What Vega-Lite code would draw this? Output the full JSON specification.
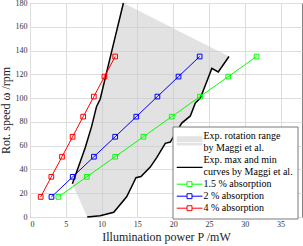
{
  "$schema": "https://vega.github.io/schema/vega-lite/v6.json",
  "width": 272,
  "height": 214,
  "autosize": {"type": "none"},
  "padding": {"left": 30, "top": 3, "right": 1, "bottom": 29},
  "config": {
    "font": "Liberation Serif",
    "view": {"stroke": "#808080", "strokeWidth": 1},
    "axis": {
      "gridColor": "#dedede",
      "gridOpacity": 1,
      "domain": false,
      "ticks": false,
      "labelFont": "Liberation Serif",
      "labelFontSize": 8,
      "labelColor": "#333333",
      "titleFont": "Liberation Serif",
      "titleFontSize": 12,
      "titleFontWeight": "normal",
      "titleColor": "#222222"
    }
  },
  "datasets": {
    "poly": [
      {"ord": 0, "P": 5.92, "w": 28},
      {"ord": 1, "P": 6.76, "w": 42},
      {"ord": 2, "P": 7.7, "w": 58},
      {"ord": 3, "P": 8.6, "w": 76},
      {"ord": 4, "P": 9.3, "w": 93},
      {"ord": 5, "P": 9.8, "w": 99},
      {"ord": 6, "P": 11.8, "w": 149},
      {"ord": 7, "P": 13.05, "w": 180},
      {"ord": 8, "P": 27.8, "w": 135},
      {"ord": 9, "P": 26.3, "w": 122},
      {"ord": 10, "P": 25.4, "w": 125},
      {"ord": 11, "P": 24.7, "w": 114},
      {"ord": 12, "P": 23.8, "w": 100},
      {"ord": 13, "P": 23.1, "w": 96},
      {"ord": 14, "P": 22.4, "w": 85},
      {"ord": 15, "P": 21.2, "w": 79},
      {"ord": 16, "P": 20.1, "w": 68},
      {"ord": 17, "P": 19.6, "w": 63},
      {"ord": 18, "P": 18.9, "w": 62},
      {"ord": 19, "P": 17.7, "w": 50},
      {"ord": 20, "P": 16.8, "w": 42},
      {"ord": 21, "P": 15.5, "w": 34},
      {"ord": 22, "P": 14.8, "w": 33},
      {"ord": 23, "P": 14.4, "w": 28},
      {"ord": 24, "P": 13.5, "w": 17},
      {"ord": 25, "P": 11.7, "w": 4},
      {"ord": 26, "P": 9.8, "w": 1},
      {"ord": 27, "P": 8.0, "w": 0}
    ],
    "curves": [
      {"curve": "max", "ord": 0, "P": 5.92, "w": 28},
      {"curve": "max", "ord": 1, "P": 6.76, "w": 42},
      {"curve": "max", "ord": 2, "P": 7.7, "w": 58},
      {"curve": "max", "ord": 3, "P": 8.6, "w": 76},
      {"curve": "max", "ord": 4, "P": 9.3, "w": 93},
      {"curve": "max", "ord": 5, "P": 9.8, "w": 99},
      {"curve": "max", "ord": 6, "P": 11.8, "w": 149},
      {"curve": "max", "ord": 7, "P": 13.05, "w": 180},
      {"curve": "min", "ord": 0, "P": 8.0, "w": 0},
      {"curve": "min", "ord": 1, "P": 9.8, "w": 1},
      {"curve": "min", "ord": 2, "P": 11.7, "w": 4},
      {"curve": "min", "ord": 3, "P": 13.5, "w": 17},
      {"curve": "min", "ord": 4, "P": 14.4, "w": 28},
      {"curve": "min", "ord": 5, "P": 14.8, "w": 33},
      {"curve": "min", "ord": 6, "P": 15.5, "w": 34},
      {"curve": "min", "ord": 7, "P": 16.8, "w": 42},
      {"curve": "min", "ord": 8, "P": 17.7, "w": 50},
      {"curve": "min", "ord": 9, "P": 18.9, "w": 62},
      {"curve": "min", "ord": 10, "P": 19.6, "w": 63},
      {"curve": "min", "ord": 11, "P": 20.1, "w": 68},
      {"curve": "min", "ord": 12, "P": 21.2, "w": 79},
      {"curve": "min", "ord": 13, "P": 22.4, "w": 85},
      {"curve": "min", "ord": 14, "P": 23.1, "w": 96},
      {"curve": "min", "ord": 15, "P": 23.8, "w": 100},
      {"curve": "min", "ord": 16, "P": 24.7, "w": 114},
      {"curve": "min", "ord": 17, "P": 25.4, "w": 125},
      {"curve": "min", "ord": 18, "P": 26.3, "w": 122},
      {"curve": "min", "ord": 19, "P": 27.8, "w": 135}
    ],
    "abs": [
      {"series": "1.5 % absorption", "P": 3.96, "w": 16.9},
      {"series": "1.5 % absorption", "P": 7.93, "w": 33.8},
      {"series": "1.5 % absorption", "P": 11.9, "w": 50.7},
      {"series": "1.5 % absorption", "P": 15.85, "w": 67.5},
      {"series": "1.5 % absorption", "P": 19.8, "w": 84.4},
      {"series": "1.5 % absorption", "P": 23.75, "w": 101.3},
      {"series": "1.5 % absorption", "P": 27.7, "w": 118.1},
      {"series": "1.5 % absorption", "P": 31.65, "w": 135},
      {"series": "2 % absorption", "P": 3.0, "w": 16.9},
      {"series": "2 % absorption", "P": 5.97, "w": 33.8},
      {"series": "2 % absorption", "P": 8.93, "w": 50.7},
      {"series": "2 % absorption", "P": 11.9, "w": 67.5},
      {"series": "2 % absorption", "P": 14.85, "w": 84.4},
      {"series": "2 % absorption", "P": 17.8, "w": 101.3},
      {"series": "2 % absorption", "P": 20.75, "w": 118.1},
      {"series": "2 % absorption", "P": 23.7, "w": 135},
      {"series": "4 % absorption", "P": 1.49, "w": 16.9},
      {"series": "4 % absorption", "P": 2.98, "w": 33.8},
      {"series": "4 % absorption", "P": 4.47, "w": 50.7},
      {"series": "4 % absorption", "P": 5.95, "w": 67.5},
      {"series": "4 % absorption", "P": 7.43, "w": 84.4},
      {"series": "4 % absorption", "P": 8.92, "w": 101.3},
      {"series": "4 % absorption", "P": 10.4, "w": 118.1},
      {"series": "4 % absorption", "P": 11.9, "w": 135}
    ]
  },
  "encoding": {
    "x": {
      "field": "P",
      "type": "quantitative",
      "scale": {"domain": [0, 38], "nice": false, "zero": false},
      "axis": {"values": [0, 5, 10, 15, 20, 25, 30, 35], "labelPadding": 3, "titlePadding": 3, "title": "Illumination power P /mW"}
    },
    "y": {
      "field": "w",
      "type": "quantitative",
      "scale": {"domain": [0, 180], "nice": false},
      "axis": {"values": [0, 20, 40, 60, 80, 100, 120, 140, 160, 180], "labelPadding": 3, "titlePadding": 3, "title": "Rot. speed ω /rpm"}
    }
  },
  "layer": [
    {
      "data": {"name": "poly"},
      "mark": {"type": "line", "fill": "#c6c6c6", "fillOpacity": 0.5, "stroke": null, "strokeWidth": 0},
      "encoding": {"order": {"field": "ord", "type": "quantitative"}}
    },
    {
      "data": {"name": "curves"},
      "mark": {"type": "line", "strokeWidth": 1.5},
      "encoding": {
        "detail": {"field": "curve"},
        "order": {"field": "ord", "type": "quantitative"},
        "color": {"datum": "curves by Maggi et al.", "type": "nominal"}
      }
    },
    {
      "data": {"name": "abs"},
      "mark": {"type": "line", "strokeWidth": 1},
      "encoding": {
        "color": {
          "field": "series",
          "type": "nominal",
          "scale": {
            "domain": ["Exp. rotation range", "by Maggi et al.", "Exp. max and min", "curves by Maggi et al.", "1.5 % absorption", "2 % absorption", "4 % absorption"],
            "range": ["#e3e3e3", "#e3e3e3", "#000000", "#000000", "#00ff00", "#0000ff", "#ff0000"]
          },
          "legend": {
            "title": null,
            "orient": "none",
            "legendX": 142.5,
            "legendY": 123.5,
            "fillColor": "white",
            "strokeColor": "#7a7a7a",
            "padding": 4,
            "labelFont": "Liberation Serif",
            "labelFontSize": 10,
            "labelColor": "black",
            "labelOffset": 1,
            "symbolSize": 676,
            "clipHeight": 11.4,
            "rowPadding": 0,
            "encode": {
              "symbols": {
                "update": {
                  "x": {"value": 13},
                  "shape": {"signal": "datum.value == 'Exp. rotation range' ? 'M-1,0.22H1' : datum.value == 'by Maggi et al.' ? 'M-1,-0.323H1' : datum.value == 'Exp. max and min' ? 'M-1,0H1' : datum.value == 'curves by Maggi et al.' ? 'M-1,-0.385H1' : 'M-1,0H-0.19M0.19,0H1M-0.19,-0.19H0.19V0.19H-0.19Z'"},
                  "stroke": {"signal": "datum.value == 'Exp. rotation range' || datum.value == 'by Maggi et al.' ? '#e3e3e3' : datum.value == 'Exp. max and min' ? 'transparent' : datum.value == 'curves by Maggi et al.' ? '#000000' : datum.value == '1.5 % absorption' ? '#00ff00' : datum.value == '2 % absorption' ? '#0000ff' : '#ff0000'"},
                  "strokeWidth": {"signal": "datum.value == 'Exp. rotation range' ? 5.8 : datum.value == 'by Maggi et al.' ? 3 : datum.value == 'Exp. max and min' ? 0 : datum.value == 'curves by Maggi et al.' ? 1.5 : 1"},
                  "strokeCap": {"value": "butt"},
                  "opacity": {"value": 1}
                }
              },
              "labels": {
                "update": {
                  "x": {"value": 27}
                }
              }
            }
          }
        }
      }
    },
    {
      "data": {"name": "abs"},
      "mark": {"type": "point", "shape": "square", "filled": false, "size": 22, "strokeWidth": 1, "opacity": 1},
      "encoding": {
        "color": {"field": "series", "type": "nominal"}
      }
    }
  ]
}
